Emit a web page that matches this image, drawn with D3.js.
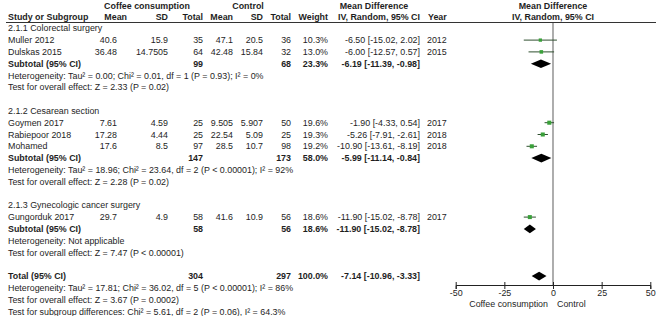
<!DOCTYPE html>
<html><head><meta charset="utf-8">
<script src="https://cdn.jsdelivr.net/npm/d3@7"></script>
<style>
body{margin:0;background:#fff;}
svg text{font-family:"Liberation Sans",Arial,sans-serif;font-size:8.9px;fill:#1e1e1e;}
</style></head>
<body><svg id="c" width="660" height="316"></svg>
<script>
// ---- data ----
const groups = ["2.1.1 Colorectal surgery","2.1.2 Cesarean section","2.1.3 Gynecologic cancer surgery"];
const studies = ["Muller 2012","Dulskas 2015","Goymen 2017","Rabiepoor 2018","Mohamed","Gungorduk 2017"];
const studyGroup = [0,0,1,1,1,2];
const coffeeMean = ["40.6","36.48","7.61","17.28","17.6","29.7"];
const coffeeSD = ["15.9","14.7505","4.59","4.44","8.5","4.9"];
const coffeeN = [35,64,25,25,97,58];
const controlMean = ["47.1","42.48","9.505","22.54","28.5","41.6"];
const controlSD = ["20.5","15.84","5.907","5.09","10.7","10.9"];
const controlN = [36,32,50,25,98,56];
const weights = [10.3,13.0,19.6,19.3,19.2,18.6];
const md = [-6.50,-6.00,-1.90,-5.26,-10.90,-11.90];
const mdLo = [-15.02,-12.57,-4.33,-7.91,-13.61,-15.02];
const mdHi = [2.02,0.57,0.54,-2.61,-8.19,-8.78];
const years = [2012,2015,2017,2018,2018,2017];
const subN1 = [99,147,58];
const subN2 = [68,173,56];
const subWeight = [23.3,58.0,18.6];
const subMd = [-6.19,-5.99,-11.90];
const subLo = [-11.39,-11.14,-15.02];
const subHi = [-0.98,-0.84,-8.78];
const subHet = [
 "Heterogeneity: Tau\u00B2 = 0.00; Chi\u00B2 = 0.01, df = 1 (P = 0.93); I\u00B2 = 0%",
 "Heterogeneity: Tau\u00B2 = 18.96; Chi\u00B2 = 23.64, df = 2 (P < 0.00001); I\u00B2 = 92%",
 "Heterogeneity: Not applicable"];
const subTest = ["Test for overall effect: Z = 2.33 (P = 0.02)","Test for overall effect: Z = 2.28 (P = 0.02)","Test for overall effect: Z = 7.47 (P < 0.00001)"];
const totalN1 = 304, totalN2 = 297, totalMd = -7.14, totalLo = -10.96, totalHi = -3.33;
const totalLines = [
 "Heterogeneity: Tau\u00B2 = 17.81; Chi\u00B2 = 36.02, df = 5 (P < 0.00001); I\u00B2 = 86%",
 "Test for overall effect: Z = 3.67 (P = 0.0002)",
 "Test for subgroup differences: Chi\u00B2 = 5.61, df = 2 (P = 0.06), I\u00B2 = 64.3%"];
const axisTicks = [-50,-25,0,25,50];

const loc = d3.formatLocale({decimal:".",thousands:",",grouping:[3],currency:["",""],minus:"-"});
const fmt2 = loc.format(".2f");
const fmtInt = loc.format("d");
const ciText = (m,l,h)=>`${fmt2(m)} [${fmt2(l)}, ${fmt2(h)}]`;

// ---- layout ----
const svg = d3.select("#c");
const x = d3.scaleLinear().domain([-50,50]).range([455.7,650.3]);
const y = d3.scaleLinear().domain([0,24]).range([28.3,311.5]);
const col = {study:8, m1:117, sd1:168, n1:203, m2:233, sd2:263, n2:291, w:328, ci:420, year:427};

// build rows
const rows = [];
let r = 0;
groups.forEach((g,gi)=>{
  rows.push({type:"group",r:r++,gi});
  studies.forEach((s,i)=>{ if(studyGroup[i]===gi) rows.push({type:"study",r:r++,i}); });
  rows.push({type:"sub",r:r++,gi});
  rows.push({type:"het",r:r++,text:subHet[gi]});
  rows.push({type:"het",r:r++,text:subTest[gi]});
  r++;
});
rows.push({type:"total",r:r++});
totalLines.forEach(t=>rows.push({type:"het",r:r++,text:t}));

function txt(xp,yp,s,anchor,bold){
  return svg.append("text").attr("x",xp).attr("y",yp).attr("dy","0.35em")
    .attr("text-anchor",anchor||"start").attr("font-weight",bold?"bold":null).text(s);
}

// headers
txt(147,5.5,"Coffee consumption","middle",true);
txt(248,5.5,"Control","middle",true);
txt(374,5.5,"Mean Difference","middle",true);
txt(553,5.5,"Mean Difference","middle",true);
txt(col.study,16.5,"Study or Subgroup","start",true);
txt(127,16.5,"Mean","end",true);
txt(col.sd1,16.5,"SD","end",true);
txt(col.n1,16.5,"Total","end",true);
txt(col.m2,16.5,"Mean","end",true);
txt(col.sd2,16.5,"SD","end",true);
txt(col.n2,16.5,"Total","end",true);
txt(col.w,16.5,"Weight","end",true);
txt(col.ci,16.5,"IV, Random, 95% CI","end",true);
txt(col.year+1,16.5,"Year","start",true);
txt(553,16.5,"IV, Random, 95% CI","middle",true);
svg.append("line").attr("x1",6).attr("x2",656).attr("y1",22.5).attr("y2",22.5)
  .attr("stroke","#333").attr("stroke-width",1);

// zero line
const axisY = 285;
svg.append("line").attr("x1",x(0)).attr("x2",x(0)).attr("y1",23).attr("y2",axisY)
  .attr("stroke","#777").attr("stroke-width",1.2);

rows.forEach(d=>{
  const yy = y(d.r);
  if(d.type==="group") txt(col.study,yy,groups[d.gi]);
  else if(d.type==="het") txt(col.study,yy,d.text);
  else if(d.type==="study"){
    const i=d.i;
    txt(col.study,yy,studies[i]);
    txt(col.m1,yy,coffeeMean[i],"end");
    txt(col.sd1,yy,coffeeSD[i],"end");
    txt(col.n1,yy,coffeeN[i],"end");
    txt(col.m2,yy,controlMean[i],"end");
    txt(col.sd2,yy,controlSD[i],"end");
    txt(col.n2,yy,controlN[i],"end");
    txt(col.w,yy,weights[i].toFixed(1)+"%","end");
    txt(col.ci,yy,ciText(md[i],mdLo[i],mdHi[i]),"end");
    txt(col.year,yy,years[i]);
    svg.append("line").attr("x1",x(mdLo[i])).attr("x2",x(mdHi[i])).attr("y1",yy).attr("y2",yy)
      .attr("stroke","#2f4f2f").attr("stroke-width",1);
    const s = 1.2+Math.sqrt(weights[i])*0.65;
    svg.append("rect").attr("x",x(md[i])-s/2).attr("y",yy-s/2).attr("width",s).attr("height",s)
      .attr("fill","#3aa03a");
  } else if(d.type==="sub" || d.type==="total"){
    const isT = d.type==="total";
    const gi = d.gi;
    txt(col.study,yy,isT?"Total (95% CI)":"Subtotal (95% CI)","start",true);
    txt(col.n1,yy,isT?totalN1:subN1[gi],"end",true);
    txt(col.n2,yy,isT?totalN2:subN2[gi],"end",true);
    txt(col.w,yy,(isT?100:subWeight[gi]).toFixed(1)+"%","end",true);
    const m=isT?totalMd:subMd[gi], l=isT?totalLo:subLo[gi], h=isT?totalHi:subHi[gi];
    txt(col.ci,yy,ciText(m,l,h),"end",true);
    const hh=4.3;
    svg.append("path").attr("d",`M${x(l)},${yy}L${x(m)},${yy-hh}L${x(h)},${yy}L${x(m)},${yy+hh}Z`)
      .attr("fill","#000");
  }
});

// axis
const ax = svg.append("g").attr("transform",`translate(0,${axisY})`)
  .call(d3.axisBottom(x).tickValues(axisTicks).tickSizeOuter(0).tickSize(4).tickFormat(fmtInt));
ax.select(".domain").attr("stroke","#222");
ax.selectAll(".tick line").attr("y1",-3).attr("y2",4).attr("stroke","#222");
ax.selectAll(".tick text").attr("y",5).attr("font-size","8.9px")
  .style("font-family",'"Liberation Sans",Arial,sans-serif').attr("fill","#1e1e1e");
txt(548,303.5,"Coffee consumption","end");
txt(557,303.5,"Control","start");
</script></body></html>
